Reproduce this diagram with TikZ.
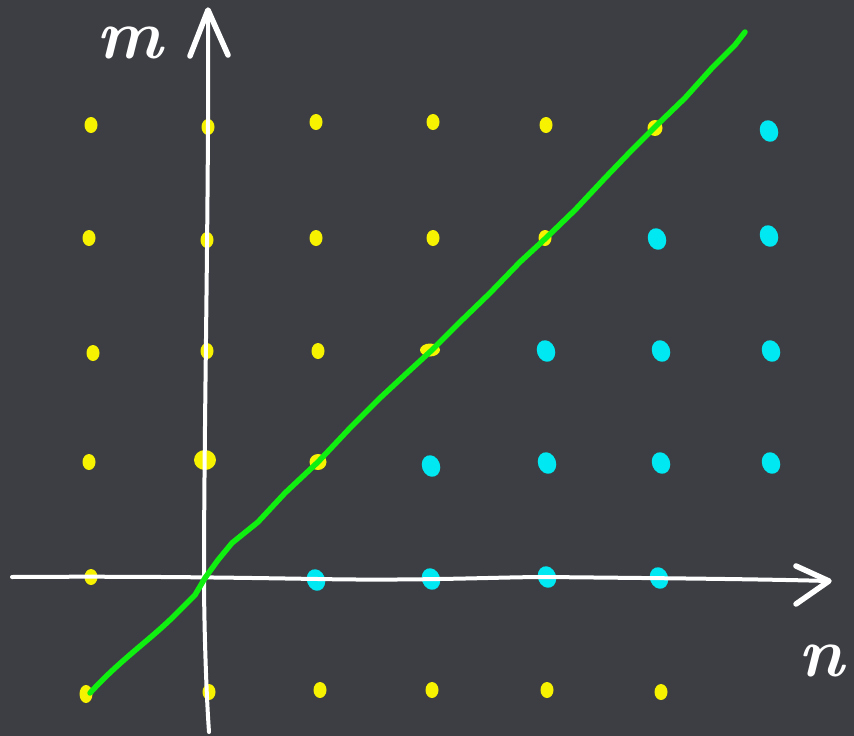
\documentclass[tikz,border=0pt]{standalone}
\usetikzlibrary{shapes.geometric}
\definecolor{board}{HTML}{3C3E43}
\definecolor{chalkyellow}{HTML}{F7F200}
\definecolor{chalkcyan}{HTML}{00E8F2}
\definecolor{chalkgreen}{HTML}{10F010}
\tikzset{
  ydot/.style={ellipse, fill=chalkyellow, inner sep=0pt, minimum width=13pt, minimum height=16pt},
  cdot/.style={ellipse, fill=chalkcyan, inner sep=0pt, minimum width=18pt, minimum height=22pt, rotate=20},
  axis/.style={draw=white, line width=4pt, line cap=round},
  chevron/.style={draw=white, line width=5.5pt, line cap=round, line join=round},
  chalktext/.style={text=white, inner sep=0pt, font=\fontsize{70}{70}\selectfont\bfseries\itshape}
}
\begin{document}
\begin{tikzpicture}[x=1pt,y=-1pt]
\fill[board] (0,0) rectangle (854,736);
\useasboundingbox (0,0) rectangle (854,736);
% yellow dots
\foreach \x/\y/\i in {91/125/a1,208/127/a2,316/122/a3,433/122/a4,546/125/a5,
  89/238/b1,207/240/b2,316/238/b3,433/238/b4,545/238/b5,
  93/353/c1,207/351/c2,318/351/c3,
  89/462/d1,
  91/577/e1,
  209/692/f2,320/690/f3,432/690/f4,547/690/f5,661/692/f6}
  \node[ydot] (y\i) at (\x,\y) {};
\node[ydot, minimum width=15pt] (ya6) at (655,128) {};
\node[ydot, minimum width=20pt, minimum height=13pt] (yc4) at (430,350) {};
\node[ydot, minimum width=17pt] (yd3) at (318,462) {};
\node[ydot, minimum width=22pt, minimum height=20pt] (yd2) at (205,460) {};
\node[ydot, minimum height=18pt] (yf1) at (86,694) {};
% cyan dots
\foreach \x/\y/\i in {769/131/a7,
  657/239/b6,769/236/b7,
  546/351/c5,661/351/c6,771/351/c7,
  431/466/d4,547/463/d5,661/463/d6,771/463/d7,
  316/580/e3,431/579/e4,547/577/e5,659/578/e6}
  \node[cdot] (c\i) at (\x,\y) {};
% axes
\draw[axis] (12,577) .. controls (150,576) and (250,578) .. (318,579)
  .. controls (420,581) and (500,577) .. (546,577)
  .. controls (640,578) and (760,579) .. (828,581);
\draw[chevron] (796,566) -- (829,581) -- (796,604);
\draw[axis] (209,732) .. controls (206,690) and (204,620) .. (204,577)
  .. controls (204,420) and (209,200) .. (208,12);
\draw[chevron] (190,56) -- (208,10) -- (228,55);
% diagonal
\draw[chalkgreen, line width=5.5pt, line cap=round, line join=round]
  (90,693) .. controls (120,660) and (150,640) .. (175,615)
  -- (195,595) -- (205,578) -- (218,560) -- (232,543) -- (258,522)
  -- (285,493) -- (318,462) -- (350,428) -- (380,398) -- (408,372)
  -- (432,350) -- (460,322) -- (490,293) -- (520,262) -- (546,238)
  -- (575,210) -- (605,178) -- (630,152) -- (657,125) -- (685,98)
  -- (712,68) -- (735,45) -- (745,32);
% labels
\node[chalktext, anchor=base] (lm) at (130,58) {m};
\node[chalktext, anchor=base] (ln) at (821,676) {n};
\end{tikzpicture}
\end{document}
